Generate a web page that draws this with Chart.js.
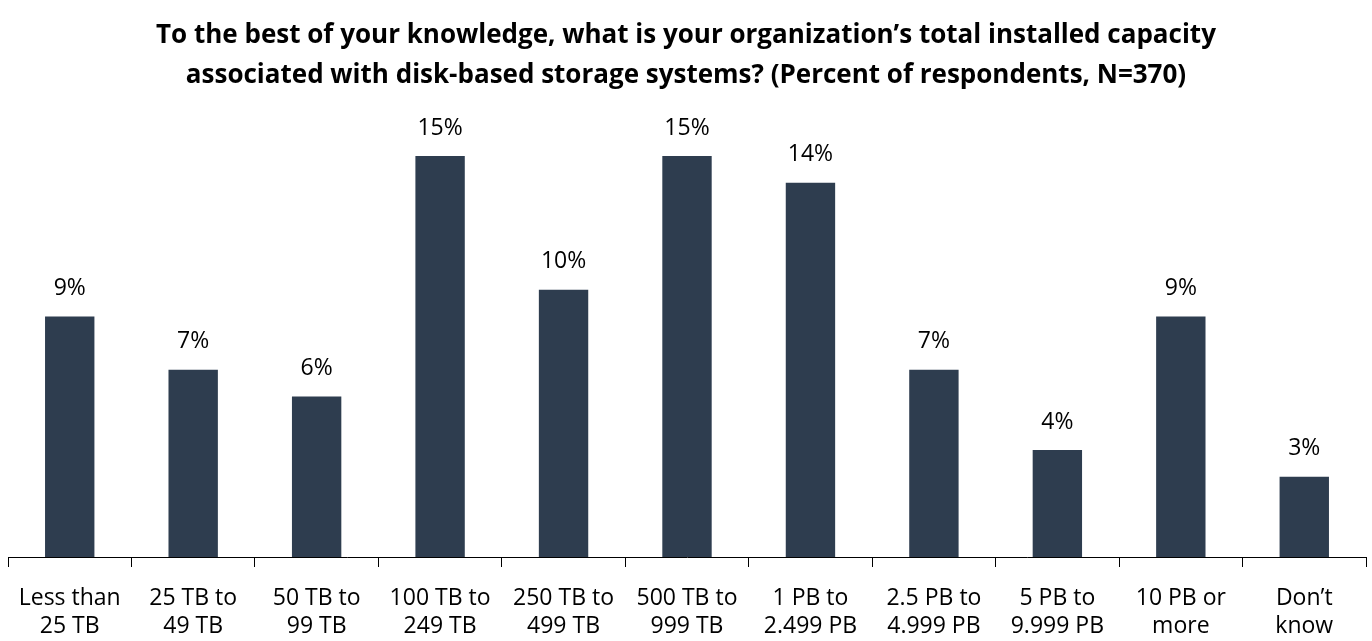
<!DOCTYPE html>
<html>
<head>
<meta charset="utf-8">
<script src="https://cdn.jsdelivr.net/npm/chart.js@4"></script>
<style>
  html, body { margin: 0; padding: 0; background: #fff; }
  #wrap { width: 1372px; height: 641px; }
</style>
</head>
<body>
<div id="wrap"><canvas id="c" width="1372" height="641"></canvas></div>
<script>
var categories = [
  ['Less than', '25 TB'], ['25 TB to', '49 TB'], ['50 TB to', '99 TB'],
  ['100 TB to', '249 TB'], ['250 TB to', '499 TB'], ['500 TB to', '999 TB'],
  ['1 PB to', '2.499 PB'], ['2.5 PB to', '4.999 PB'], ['5 PB to', '9.999 PB'],
  ['10 PB or', 'more'], ['Don\u2019t', 'know']
];
var percents = [9, 7, 6, 15, 10, 15, 14, 7, 4, 9, 3];
var titleLines = [
  'To the best of your knowledge, what is your organization\u2019s total installed capacity',
  'associated with disk-based storage systems? (Percent of respondents, N=370)'
];

var FONT = '"Open Sans", "DejaVu Sans", sans-serif';

// title drawn by hand so the plot area position is exact
var titlePlugin = {
  id: 'twoLineTitle',
  afterDraw: function(chart) {
    var ctx = chart.ctx;
    ctx.save();
    ctx.font = 'bold 26px ' + FONT;
    ctx.fillStyle = '#000';
    ctx.textAlign = 'center';
    ctx.textBaseline = 'middle';
    ctx.fillText(titleLines[0], chart.width / 2, 36);
    ctx.fillText(titleLines[1], chart.width / 2, 76);
    ctx.restore();
  }
};

var valueLabels = {
  id: 'valueLabels',
  afterDatasetsDraw: function(chart) {
    var ctx = chart.ctx;
    var meta = chart.getDatasetMeta(0);
    ctx.save();
    ctx.font = '23px ' + FONT;
    ctx.fillStyle = '#000';
    ctx.textAlign = 'center';
    ctx.textBaseline = 'middle';
    meta.data.forEach(function(bar, i) {
      ctx.fillText(percents[i] + '%', bar.x, bar.y - 28);
    });
    ctx.restore();
  }
};

var ctx = document.getElementById('c').getContext('2d');
var chart = new Chart(ctx, {
  type: 'bar',
  data: {
    labels: categories,
    datasets: [{
      data: percents,
      backgroundColor: '#2E3D4F',
      barPercentage: 0.8,
      categoryPercentage: 0.5
    }]
  },
  options: {
    responsive: false,
    animation: false,
    layout: { padding: { top: 156, left: 8, right: 6, bottom: 0 } },
    plugins: {
      legend: { display: false },
      tooltip: { enabled: false },
      title: { display: false }
    },
    scales: {
      y: {
        display: false,
        min: 0,
        max: 15
      },
      x: {
        offset: true,
        border: { display: true, color: '#000', width: 1 },
        grid: {
          offset: true,
          drawOnChartArea: false,
          drawTicks: true,
          tickLength: 10,
          color: '#000'
        },
        ticks: {
          color: '#000',
          font: { family: FONT, size: 23, lineHeight: '28px' },
          padding: 17,
          maxRotation: 0,
          autoSkip: false
        },
        afterFit: function(scale) { scale.height = 84; }
      }
    }
  },
  plugins: [titlePlugin, valueLabels]
});
</script>
</body>
</html>
